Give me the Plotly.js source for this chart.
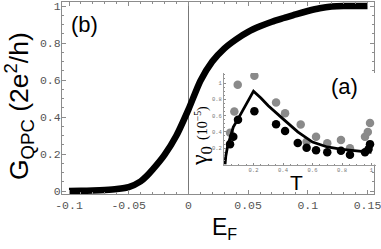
<!DOCTYPE html>
<html>
<head>
<meta charset="utf-8">
<script src="https://cdn.plot.ly/plotly-3.0.1.min.js"></script>
<style>html,body{margin:0;padding:0;background:#fff;}#chart{width:381px;height:249px;}</style>
</head>
<body>
<div id="chart"></div>
<script>
// Main panel (b): conductance vs Fermi energy
const mainEF = [-0.1, -0.09, -0.08, -0.07, -0.06, -0.05, -0.04, -0.035, -0.03, -0.02, -0.01, 0, 0.01, 0.02, 0.03, 0.04, 0.05, 0.06, 0.07, 0.08, 0.09, 0.1, 0.11, 0.12, 0.13, 0.14, 0.15];
const mainG  = [0, 0.001, 0.003, 0.006, 0.011, 0.021, 0.052, 0.08, 0.115, 0.195, 0.3, 0.44, 0.595, 0.7, 0.77, 0.82, 0.86, 0.89, 0.915, 0.935, 0.955, 0.973, 0.988, 0.997, 1.0, 1.0, 1.0];

// Inset (a): gamma0 vs T
const greyT = [0.041, 0.07, 0.093, 0.206, 0.353, 0.414, 0.52, 0.56, 0.624, 0.70, 0.793, 0.854, 0.956, 0.975, 0.99];
const greyG = [0.39, 0.65, 0.98, 1.09, 0.76, 0.63, 0.49, 0.28, 0.34, 0.26, 0.30, 0.20, 0.34, 0.40, 0.51];
const blackT = [0.041, 0.063, 0.095, 0.206, 0.353, 0.414, 0.50, 0.56, 0.624, 0.70, 0.793, 0.854, 0.956, 0.98, 0.99];
const blackG = [0.25, 0.34, 0.55, 0.655, 0.495, 0.41, 0.265, 0.205, 0.175, 0.15, 0.17, 0.12, 0.15, 0.19, 0.25];
const theoryT = [0.007, 0.012, 0.025, 0.04, 0.063, 0.1, 0.15, 0.2, 0.25, 0.3, 0.4, 0.5, 0.6, 0.7, 0.8, 0.9, 1.0];
const theoryG = [0, 0.1, 0.23, 0.33, 0.46, 0.575, 0.735, 0.9, 0.815, 0.72, 0.56, 0.4, 0.275, 0.215, 0.185, 0.165, 0.15];

// Tick labels
const mainXTicks = [-0.1, -0.05, 0, 0.05, 0.1, 0.15];
const mainXText = ['-0.1', '-0.05', '0', '0.05', '0.1', '0.15'];
const mainYTicks = [0, 0.2, 0.4, 0.6, 0.8, 1];
const mainYText = ['0', '0.2', '0.4', '0.6', '0.8', '1'];
const insetTicks = [0.2, 0.4, 0.6, 0.8, 1];
const insetText = ['0.2', '0.4', '0.6', '0.8', '1'];

const traces = [
  {x: mainEF, y: mainG, type: 'scatter', mode: 'lines', line: {color: '#000', width: 6.5, shape: 'spline', smoothing: 0.6}, xaxis: 'x', yaxis: 'y', hoverinfo: 'skip'},
  {x: greyT, y: greyG, type: 'scatter', mode: 'markers', marker: {color: '#8a8a8a', size: 8.5}, xaxis: 'x2', yaxis: 'y2', hoverinfo: 'skip'},
  {x: blackT, y: blackG, type: 'scatter', mode: 'markers', marker: {color: '#000', size: 8.5}, xaxis: 'x2', yaxis: 'y2', hoverinfo: 'skip'},
  {x: theoryT, y: theoryG, type: 'scatter', mode: 'lines', line: {color: '#000', width: 2.8}, xaxis: 'x2', yaxis: 'y2', hoverinfo: 'skip'}
];

const frameCol = '#8c8c8c';
const tickFont = {family: 'Liberation Mono, Courier New, monospace', size: 11.5, color: '#555'};
const insetFont = {family: 'Liberation Mono, Courier New, monospace', size: 5.5, color: '#777'};

const layout = {
  width: 381, height: 249,
  margin: {l: 62, r: 5, t: 2, b: 55},
  paper_bgcolor: '#fff', plot_bgcolor: '#fff',
  showlegend: false,
  xaxis: {
    domain: [0, 312/314],
    range: [-0.10586, 0.15544],
    tickvals: mainXTicks, ticktext: mainXText,
    ticks: 'inside', ticklen: 4, tickcolor: frameCol, tickwidth: 1,
    minor: {dtick: 0.01, ticks: 'inside', ticklen: 2, tickcolor: frameCol, showgrid: false},
    showline: true, linecolor: frameCol, linewidth: 1, mirror: 'ticks',
    showgrid: false, zeroline: true, zerolinecolor: '#777', zerolinewidth: 1,
    ticklabeloverflow: 'allow',
    tickfont: tickFont
  },
  yaxis: {
    range: [-0.0162, 1.0216],
    tickvals: mainYTicks, ticktext: mainYText,
    ticks: 'inside', ticklen: 4, tickcolor: frameCol, tickwidth: 1,
    minor: {dtick: 0.05, ticks: 'inside', ticklen: 2, tickcolor: frameCol, showgrid: false},
    showline: true, linecolor: frameCol, linewidth: 1, mirror: 'ticks',
    showgrid: false, zeroline: false,
    ticklabelstandoff: -2,
    tickfont: tickFont
  },
  xaxis2: {
    domain: [162/314, 1],
    anchor: 'y2',
    range: [0, 1.0305],
    tickvals: insetTicks, ticktext: insetText,
    ticks: 'inside', ticklen: 2, tickcolor: frameCol,
    minor: {dtick: 0.05, ticks: 'inside', ticklen: 1, tickcolor: frameCol, showgrid: false},
    showline: true, linecolor: '#999', linewidth: 1,
    showgrid: false, zeroline: false,
    ticklabeloverflow: 'allow',
    tickfont: insetFont
  },
  yaxis2: {
    domain: [29.5/192, 121/192],
    anchor: 'x2',
    range: [0, 1.123],
    tickvals: insetTicks, ticktext: insetText,
    ticks: 'inside', ticklen: 2, tickcolor: frameCol,
    minor: {dtick: 0.05, ticks: 'inside', ticklen: 1, tickcolor: frameCol, showgrid: false},
    showline: true, linecolor: '#999', linewidth: 1,
    showgrid: false, zeroline: false,
    ticklabeloverflow: 'allow',
    tickfont: insetFont
  },
  annotations: [
    {text: 'G<sub>QPC</sub> (2e<sup>2</sup>/h)', xref: 'paper', yref: 'paper', x: -43/314, y: 88/192, textangle: -90, showarrow: false, xanchor: 'center', yanchor: 'middle', font: {family: 'Liberation Sans, Arial, sans-serif', size: 26.5, color: '#000'}},
    {text: 'E<sub>F</sub>', xref: 'paper', yref: 'paper', x: 162.5/314, y: -34/192, showarrow: false, xanchor: 'center', yanchor: 'middle', font: {family: 'Liberation Sans, Arial, sans-serif', size: 23, color: '#000'}},
    {text: 'T', xref: 'paper', yref: 'paper', x: 234/314, y: 12/192, showarrow: false, xanchor: 'center', yanchor: 'middle', font: {family: 'Liberation Sans, Arial, sans-serif', size: 21, color: '#000'}},
    {text: '(a)', xref: 'paper', yref: 'paper', x: 282/314, y: 108/192, showarrow: false, xanchor: 'center', yanchor: 'middle', font: {family: 'Liberation Sans, Arial, sans-serif', size: 22, color: '#000'}},
    {text: '(b)', xref: 'paper', yref: 'paper', x: 22/314, y: 170/192, showarrow: false, xanchor: 'center', yanchor: 'middle', font: {family: 'Liberation Sans, Arial, sans-serif', size: 22, color: '#000'}},
    {text: 'γ<sub>0</sub> <span style="font-size:14px">(10<sup>−5</sup>)</span>', xref: 'paper', yref: 'paper', x: 139/314, y: 58/192, textangle: -90, showarrow: false, xanchor: 'center', yanchor: 'middle', font: {family: 'Liberation Serif, Times New Roman, serif', size: 24, color: '#000'}}
  ]
};

Plotly.newPlot('chart', traces, layout, {staticPlot: true, displayModeBar: false});
</script>
</body>
</html>
